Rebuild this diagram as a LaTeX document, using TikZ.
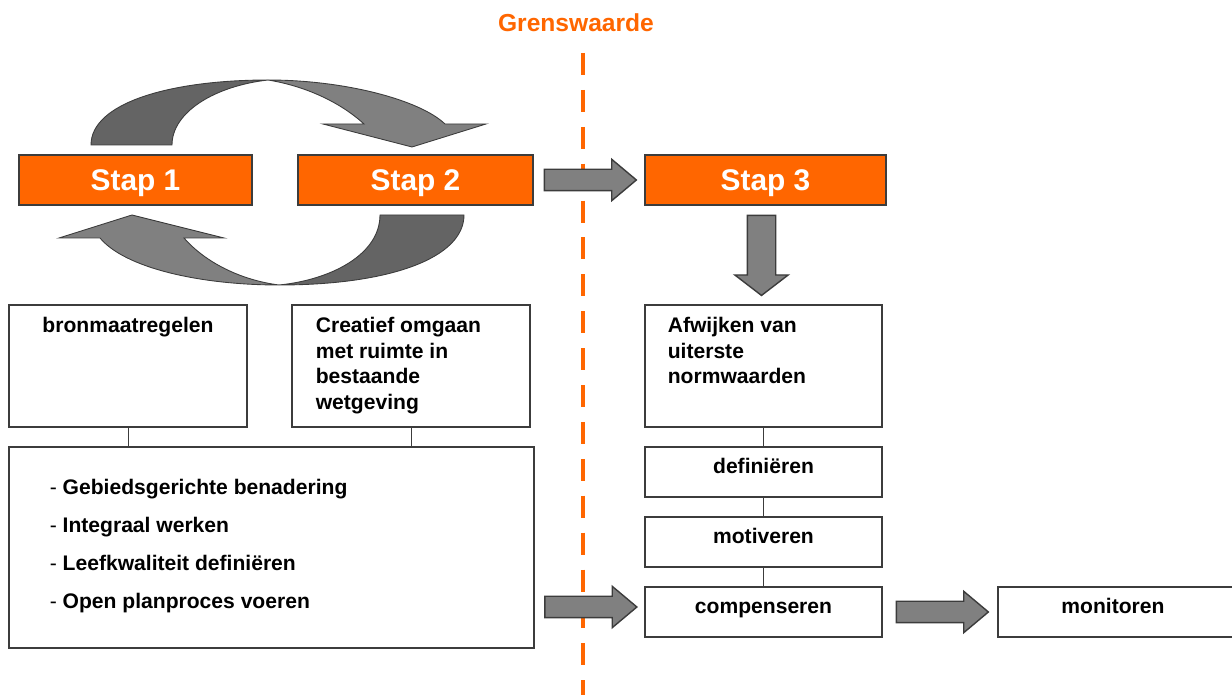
\documentclass[tikz,border=0pt]{standalone}
\usepackage{fontspec}
\setmainfont{Liberation Sans}
\usetikzlibrary{shapes.arrows, positioning, calc}
\definecolor{oranje}{HTML}{FF6600}
\definecolor{grijs}{HTML}{808080}
\definecolor{donkergrijs}{HTML}{646464}
\definecolor{rand}{HTML}{3C3C3C}
\newcommand{\px}{0.02cm}

\begin{document}
\begin{tikzpicture}[x=\px, y=-\px,
    stap/.style = {draw=rand, fill=oranje, text=white, font=\bfseries\fontsize{17}{20}\selectfont, minimum height=50*\px, inner sep=0pt, text depth=0pt, line width=0.6pt},
    vak/.style = {draw=rand, fill=white, minimum height=50*\px, inner sep=0pt, line width=0.6pt},
    tekst/.style = {font=\bfseries\fontsize{12}{14.5}\selectfont, inner sep=0pt, align=left},
    blokpijl/.style = {single arrow, draw=rand, fill=grijs, line width=0.8pt, inner sep=10*\px, minimum height=92*\px, single arrow head extend=10*\px, single arrow tip angle=80},
    boog/.style = {draw=rand, line width=0.5pt}]
  \useasboundingbox (0,0) rectangle (1232,695);

  % grenswaarde
  \node[font=\bfseries\fontsize{14}{16}\selectfont, text=oranje, anchor=base, inner sep=0pt] (grens) at (576,32) {Grenswaarde};
  \coordinate (lijnboven) at (583,53);
  \coordinate (lijnonder) at (583,700);
  \draw[oranje, line width=2.8pt, dash pattern=on 12.5pt off 8.5pt] (lijnboven) -- (lijnonder);

  % stappen
  \node[stap, minimum width=233*\px] (stap1) at (135.5,180) {Stap 1};
  \node[stap, minimum width=235*\px] (stap2) at (415.5,180) {Stap 2};
  \node[stap, minimum width=241*\px] (stap3) at (765.5,180) {Stap 3};

  % kringloop tussen stap 1 en stap 2
  \path[boog, fill=donkergrijs] (91,145) .. controls (91,103) and (170,80) .. (268,80)
        .. controls (215,86) and (172,112) .. (172,145) -- cycle;
  \path[boog, fill=grijs] (268,80) .. controls (345,80) and (420,100) .. (445,124)
        -- (486,124) -- (412,147) -- (323,124) -- (364,124)
        .. controls (340,102) and (305,86) .. (268,80) -- cycle;
  \path[boog, fill=grijs] (279,285) .. controls (200,285) and (125,268) .. (100,238)
        -- (59,238) -- (132,215) -- (224,238) -- (184,238)
        .. controls (205,262) and (240,280) .. (279,285) -- cycle;
  \path[boog, fill=donkergrijs] (279,285) .. controls (390,285) and (464,258) .. (464,215)
        -- (380,215) .. controls (380,255) and (330,280) .. (279,285) -- cycle;

  % vakken links
  \node[vak, minimum width=238*\px, minimum height=122*\px] (bron) at (128,366) {};
  \node[vak, minimum width=238*\px, minimum height=122*\px] (creatief) at (411,366) {};
  \node[vak, minimum width=525*\px, minimum height=201*\px] (lijst) at (271.5,547.5) {};
  \node[tekst, anchor=base] at ([yshift=-28*\px]bron.north) {bronmaatregelen};
  \node[tekst, anchor=north west] at ([shift={(24,12.5)}]creatief.north west)
       {Creatief omgaan\\met ruimte in\\bestaande\\wetgeving};
  \node[tekst, anchor=north west, font=\bfseries\fontsize{12}{21.6}\selectfont] at ([shift={(41,32.5)}]lijst.north west)
       {{\mdseries -} Gebiedsgerichte benadering\\{\mdseries -} Integraal werken\\{\mdseries -} Leefkwaliteit definiëren\\{\mdseries -} Open planproces voeren};

  % vakken rechts
  \node[vak, minimum width=237*\px, minimum height=122*\px] (afwijken) at (763.5,366) {};
  \node[vak, minimum width=237*\px] (definieren) at (763.5,472) {};
  \node[vak, minimum width=237*\px] (motiveren) at (763.5,542) {};
  \node[vak, minimum width=237*\px] (compenseren) at (763.5,612) {};
  \node[vak, minimum width=242*\px] (monitoren) at (1119,612) {};
  \node[tekst, anchor=north west] at ([shift={(23,12.5)}]afwijken.north west)
       {Afwijken van\\uiterste\\normwaarden};
  \node[tekst, anchor=base] at ([yshift=-27*\px]definieren.north) {definiëren};
  \node[tekst, anchor=base] at ([yshift=-27*\px]motiveren.north) {motiveren};
  \node[tekst, anchor=base] at ([yshift=-27*\px]compenseren.north) {compenseren};
  \node[tekst, anchor=base, xshift=-6*\px] at ([yshift=-27*\px]monitoren.north) {monitoren};

  % verbindingen
  \draw[rand, line width=0.5pt] (bron.south) -- (bron.south |- lijst.north);
  \draw[rand, line width=0.5pt] (creatief.south) -- (creatief.south |- lijst.north);
  \draw[rand, line width=0.5pt] (afwijken) -- (definieren);
  \draw[rand, line width=0.5pt] (definieren) -- (motiveren);
  \draw[rand, line width=0.5pt] (motiveren) -- (compenseren);

  % blokpijlen
  \node[blokpijl, xshift=-5*\px] (pijl23) at ($(stap2.east)!0.5!(stap3.west)$) {};
  \node[blokpijl, shape border rotate=270, inner sep=13.5*\px, minimum height=80*\px,
        single arrow head extend=12.5*\px, single arrow tip angle=105, yshift=5*\px] (pijlomlaag)
        at ([xshift=-3*\px]$(stap3.south)!0.5!(afwijken.north)$) {};
  \node[blokpijl, xshift=-5*\px, yshift=5*\px] (pijlcomp) at ($(lijst.east |- compenseren)!0.5!(compenseren.west)$) {};
  \node[blokpijl, xshift=-4*\px] (pijlmon) at ($(compenseren.east)!0.5!(monitoren.west)$) {};
\end{tikzpicture}
\end{document}
